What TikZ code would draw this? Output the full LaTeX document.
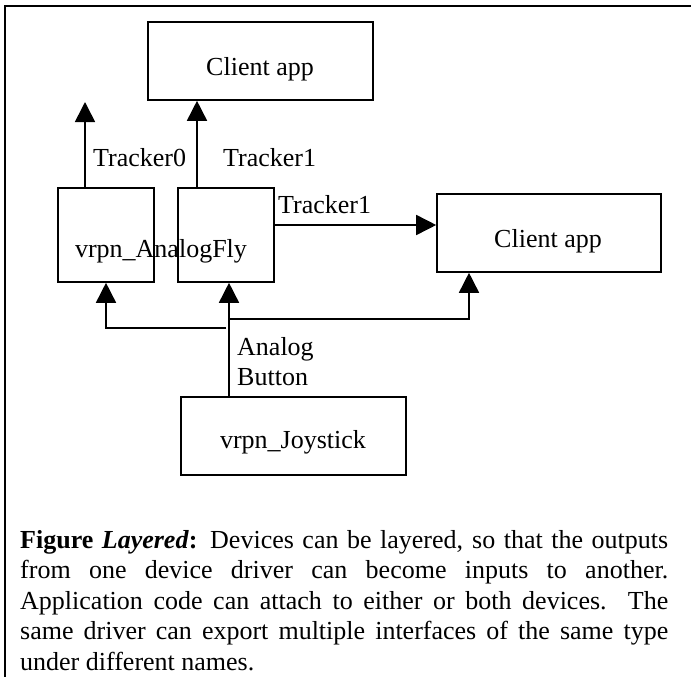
\documentclass[tikz,border=0pt]{standalone}
\usepackage{fontspec}
\setmainfont{Liberation Serif}
\usetikzlibrary{arrows.meta}

\begin{document}
\begin{tikzpicture}[x=1pt, y=-1pt,
  txt/.style={font=\fontsize{26}{30.6}\selectfont, inner sep=0pt},
  box/.style={draw, line width=1.6pt, inner sep=0pt},
  arr/.style={line width=1.6pt, -{Triangle[length=20pt, width=20pt]}},
  wire/.style={line width=1.6pt}]
  \useasboundingbox (0,0) rectangle (691,677);

  % outer frame (top and left edges)
  \draw[line width=2pt] (691,6) -- (5,6) -- (5,677);

  % boxes
  \node[box, minimum width=225pt, minimum height=78pt] (topapp) at (260.5,61) {};
  \node[box, minimum width=96pt,  minimum height=94pt] (left)   at (106,235) {};
  \node[box, minimum width=96pt,  minimum height=94pt] (mid)    at (226,235) {};
  \node[box, minimum width=224pt, minimum height=78pt] (rightapp) at (549,233) {};
  \node[box, minimum width=225pt, minimum height=78pt] (joy)    at (293.5,436) {};

  % box texts
  \node[txt, anchor=base] (topapptxt)   at (260,75)  {Client app};
  \node[txt, anchor=base] (rightapptxt) at (548,247) {Client app};
  \node[txt, anchor=base] (flytxt)      at (161,257) {vrpn\_AnalogFly};
  \node[txt, anchor=base] (joytxt)      at (293,448) {vrpn\_Joystick};

  % connector labels
  \node[txt, anchor=base west] (lt0) at (93,166)  {Tracker0};
  \node[txt, anchor=base west] (lt1) at (223,166) {Tracker1};
  \node[txt, anchor=base west] (lt2) at (278,213) {Tracker1};
  \node[txt, anchor=base west] (lab) at (237,355) {Analog};
  \node[txt, anchor=base west] (lbt) at (237,385) {Button};

  % connectors
  \coordinate (free0) at (85,102);
  \draw[arr] (left.north -| free0) -- (free0);
  \draw[arr] ([xshift=-29pt]mid.north) -- ([xshift=-29pt]mid.north |- topapp.south);
  \draw[arr] (mid.east |- 0,225) -- (rightapp.west |- 0,225);
  \draw[arr] (joy.north -| 229,0) -- (mid.south -| 229,0);
  \draw[arr] (229,319) -| ([xshift=-80pt]rightapp.south);
  \draw[arr] (226,328) -| (left.south);

  % caption
  \node[txt, anchor=base west, text width=648pt, align=justify] (cap) at (20,548)
    {\textbf{Figure \textit{Layered}:} Devices can be layered, so that the outputs\linebreak
     from one device driver can become inputs to another.\linebreak
     Application code can attach to either or both devices.\ \ The\linebreak
     same driver can export multiple interfaces of the same type\linebreak
     under different names.};
\end{tikzpicture}
\end{document}
